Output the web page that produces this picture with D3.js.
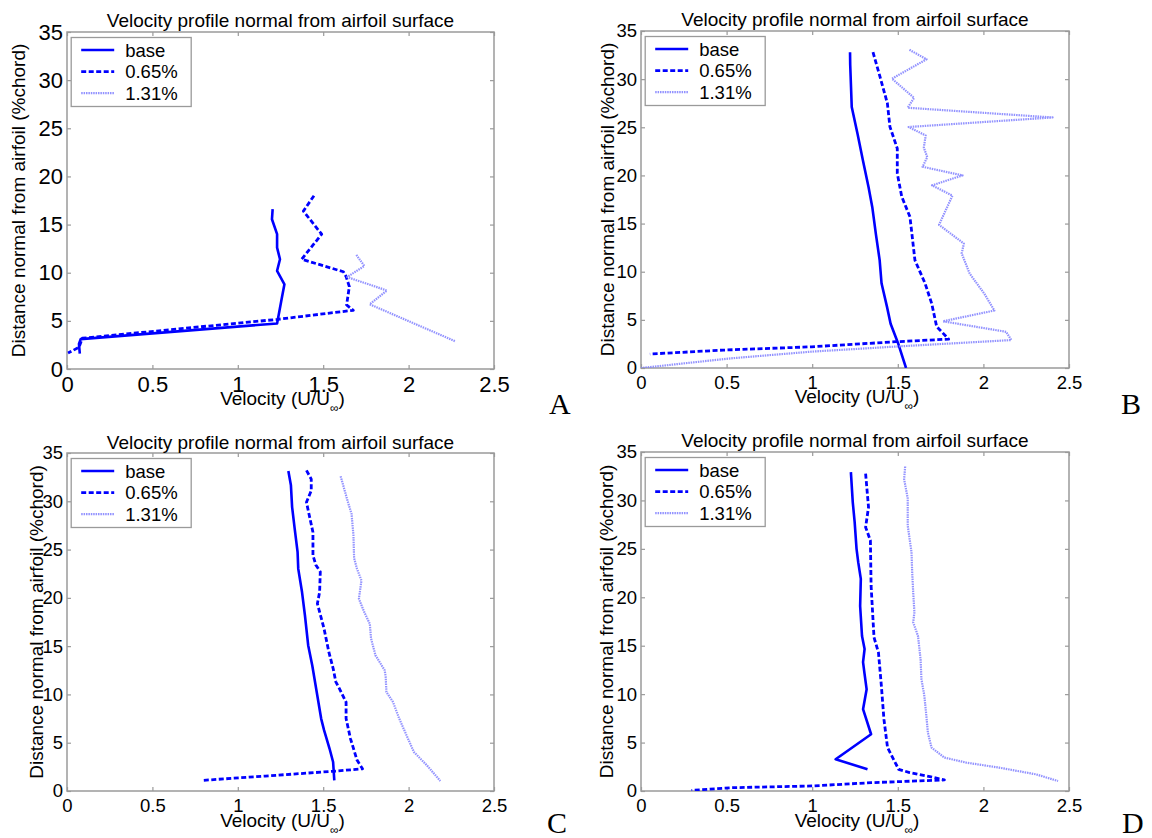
<!DOCTYPE html>
<html>
<head>
<meta charset="utf-8">
<script src="https://cdn.jsdelivr.net/npm/d3@7/dist/d3.min.js"></script>
<style>
  html, body { margin: 0; padding: 0; background: #ffffff; }
  svg { display: block; }
  text { font-family: "Liberation Sans", Arial, sans-serif; fill: #000; }
</style>
</head>
<body>
<svg id="fig" width="1152" height="838"></svg>
<script>
// ---- axis ticks ----
const xTickValues = [0, 0.5, 1, 1.5, 2, 2.5];
const xTickLabels = ["0", "0.5", "1", "1.5", "2", "2.5"];
const yTickValues = [0, 5, 10, 15, 20, 25, 30, 35];
const yTickLabels = ["0", "5", "10", "15", "20", "25", "30", "35"];

// ---- legend entries ----
const seriesNames = ["base", "0.65%", "1.31%"];

// ---- velocity profiles: [U/U∞, distance (%chord)] ----
const A_base = [[1.204,16.6],[1.200,15.55],[1.230,14.0],[1.230,12.6],[1.247,11.4],[1.230,10.2],[1.273,8.8],[1.258,7.4],[1.230,4.73],[0.080,3.1],[0.070,2.6],[0.075,1.6]];
const A_dash = [[1.446,18.0],[1.384,16.4],[1.491,14.0],[1.374,11.4],[1.618,10.1],[1.634,9.6],[1.653,8.55],[1.637,6.65],[1.676,6.1],[1.230,5.15],[0.090,3.2],[0.070,2.25],[0.006,1.66]];
const A_dot  = [[1.694,11.85],[1.741,10.7],[1.640,9.55],[1.873,8.15],[1.772,6.72],[2.273,2.88]];

const B_base = [[1.221,32.8],[1.222,31.5],[1.231,27.1],[1.265,24.3],[1.297,21.5],[1.329,18.8],[1.351,16.7],[1.372,13.9],[1.394,11.2],[1.405,8.8],[1.437,6.35],[1.458,4.6],[1.501,2.6],[1.548,0.0]];
const B_dash = [[1.355,32.8],[1.396,30.25],[1.439,27.5],[1.454,25.06],[1.497,22.8],[1.497,20.2],[1.523,17.8],[1.571,15.7],[1.600,11.2],[1.659,8.8],[1.698,6.7],[1.727,4.3],[1.797,3.0],[1.490,2.73],[0.997,2.2],[0.481,1.86],[0.052,1.45]];
const B_dot  = [[1.568,33.05],[1.668,32.06],[1.466,30.05],[1.595,28.05],[1.558,27.03],[2.404,26.02],[1.563,25.03],[1.663,24.15],[1.652,22.9],[1.672,21.9],[1.645,20.9],[1.878,20.0],[1.700,18.97],[1.819,17.9],[1.770,16.0],[1.741,14.87],[1.886,12.92],[1.873,11.9],[1.920,9.8],[2.006,7.7],[2.064,5.97],[1.764,4.85],[2.133,3.76],[2.163,2.9],[1.512,2.25],[0.997,1.7],[0.524,1.0],[0.0,0.0]];

const C_base = [[1.296,33.14],[1.311,31.65],[1.318,29.4],[1.333,27.17],[1.350,24.75],[1.354,23.0],[1.376,20.6],[1.393,18.2],[1.412,15.1],[1.436,13.0],[1.462,10.25],[1.488,7.5],[1.505,6.3],[1.537,4.4],[1.558,3.0],[1.565,1.1]];
const C_dash = [[1.402,33.2],[1.430,32.3],[1.430,31.1],[1.402,29.9],[1.419,28.5],[1.440,26.8],[1.440,24.4],[1.457,23.4],[1.483,22.7],[1.479,20.6],[1.466,19.4],[1.505,16.8],[1.533,14.4],[1.558,12.7],[1.574,11.3],[1.595,10.6],[1.634,9.2],[1.634,7.5],[1.660,5.4],[1.698,3.2],[1.730,2.3],[1.558,2.04],[1.161,1.55],[0.795,1.1]];
const C_dot  = [[1.602,32.6],[1.645,29.9],[1.666,28.7],[1.677,26.5],[1.681,24.1],[1.698,23.0],[1.724,21.8],[1.709,19.9],[1.741,18.5],[1.773,17.3],[1.780,15.8],[1.806,14.05],[1.860,12.5],[1.866,11.8],[1.870,10.25],[1.909,9.2],[1.945,7.5],[1.988,5.76],[2.031,4.04],[2.107,2.66],[2.186,1.04]];

const D_base = [[1.226,32.93],[1.237,29.8],[1.248,27.76],[1.259,25.0],[1.269,23.6],[1.284,21.9],[1.280,19.1],[1.291,16.0],[1.306,14.66],[1.297,13.3],[1.306,12.07],[1.318,10.5],[1.297,8.45],[1.344,5.86],[1.137,3.28],[1.323,2.24]];
const D_dash = [[1.312,32.76],[1.329,29.3],[1.312,27.24],[1.340,25.86],[1.344,21.2],[1.361,15.86],[1.387,14.3],[1.404,10.86],[1.419,7.41],[1.440,4.48],[1.505,2.24],[1.569,1.9],[1.687,1.48],[1.772,1.14],[1.344,0.86],[1.000,0.52],[0.530,0.34],[0.295,0.07]];
const D_dot  = [[1.543,33.5],[1.537,32.2],[1.558,30.2],[1.558,27.4],[1.580,24.66],[1.584,22.6],[1.590,20.5],[1.597,18.45],[1.590,17.4],[1.618,16.0],[1.633,13.6],[1.638,11.55],[1.655,9.83],[1.665,8.1],[1.676,6.0],[1.697,4.48],[1.772,3.45],[1.900,2.93],[2.093,2.41],[2.307,1.72],[2.436,1.03]];

// ---- line styles for the three series ----
const styles = [
  { stroke: "#0000ff", width: 2.6, dash: null,     opacity: 1 },
  { stroke: "#0000ff", width: 2.8, dash: "5,2.5",  opacity: 1 },
  { stroke: "#7f7fff", width: 2.2, dash: "1.5,0.9", opacity: 0.85 }
];

// ---- panel layout ----
const panels = [
  { tag: "A", series: [A_base, A_dash, A_dot], left: 67,  right: 494,  top: 32,  bottom: 369,
    tickFont: 22, titleY: 27,  xlabY: 405, ylabX: 25,  tagX: 549,  tagY: 414 },
  { tag: "B", series: [B_base, B_dash, B_dot], left: 641, right: 1069, top: 31,  bottom: 368,
    tickFont: 18.5, titleY: 26, xlabY: 403, ylabX: 614, tagX: 1121, tagY: 414 },
  { tag: "C", series: [C_base, C_dash, C_dot], left: 67,  right: 494,  top: 453, bottom: 791,
    tickFont: 18.5, titleY: 449, xlabY: 827, ylabX: 43,  tagX: 547,  tagY: 833 },
  { tag: "D", series: [D_base, D_dash, D_dot], left: 641, right: 1069, top: 452, bottom: 791,
    tickFont: 18.5, titleY: 447, xlabY: 827, ylabX: 613, tagX: 1122, tagY: 833 }
];

const svg = d3.select("#fig");
const frameColor = "#9a9a9a";

panels.forEach((p) => {
  const x = d3.scaleLinear().domain([0, 2.5]).range([p.left, p.right]);
  const y = d3.scaleLinear().domain([0, 35]).range([p.bottom, p.top]);
  const g = svg.append("g");

  // clip for the data lines
  const clipId = "clip" + p.tag;
  svg.append("clipPath").attr("id", clipId).append("rect")
    .attr("x", p.left).attr("y", p.top)
    .attr("width", p.right - p.left).attr("height", p.bottom - p.top);

  // axes: inward ticks on all four sides
  const styleAxis = sel => {
    sel.select(".domain").remove();
    sel.selectAll(".tick line").attr("stroke", frameColor).attr("stroke-width", 1.2);
    sel.selectAll(".tick text").style("font-size", p.tickFont + "px").attr("fill", "#000");
  };
  g.append("g").attr("transform", `translate(0,${p.bottom})`)
    .call(d3.axisBottom(x).tickValues(xTickValues).tickFormat((d, i) => xTickLabels[i])
      .tickSizeInner(-4).tickSizeOuter(0).tickPadding(7.5))
    .call(styleAxis);
  g.append("g").attr("transform", `translate(0,${p.top})`)
    .call(d3.axisTop(x).tickValues(xTickValues).tickFormat("").tickSizeInner(-4).tickSizeOuter(0))
    .call(styleAxis);
  g.append("g").attr("transform", `translate(${p.left},0)`)
    .call(d3.axisLeft(y).tickValues(yTickValues).tickFormat((d, i) => yTickLabels[i])
      .tickSizeInner(-4).tickSizeOuter(0).tickPadding(4))
    .call(styleAxis);
  g.append("g").attr("transform", `translate(${p.right},0)`)
    .call(d3.axisRight(y).tickValues(yTickValues).tickFormat("").tickSizeInner(-4).tickSizeOuter(0))
    .call(styleAxis);

  // plot frame
  g.append("rect")
    .attr("x", p.left).attr("y", p.top)
    .attr("width", p.right - p.left).attr("height", p.bottom - p.top)
    .attr("fill", "none").attr("stroke", frameColor).attr("stroke-width", 1.5);

  // profiles
  const line = d3.line().x(d => x(d[0])).y(d => y(d[1]));
  const lines = g.append("g").attr("clip-path", `url(#${clipId})`);
  p.series.forEach((s, si) => {
    const st = styles[si];
    lines.append("path").datum(s)
      .attr("d", line)
      .attr("fill", "none")
      .attr("stroke", st.stroke)
      .attr("stroke-width", st.width)
      .attr("stroke-dasharray", st.dash)
      .attr("stroke-linejoin", "round")
      .attr("opacity", st.opacity);
  });

  // legend
  const lx = p.left + 4.2, ly = p.top + 5.5;
  const lg = g.append("g");
  lg.append("rect").attr("x", lx).attr("y", ly).attr("width", 120).attr("height", 69)
    .attr("fill", "#fff").attr("stroke", frameColor).attr("stroke-width", 1.3);
  seriesNames.forEach((name, si) => {
    const ry = ly + 12.5 + si * 21.6;
    const st = styles[si];
    lg.append("line").attr("x1", lx + 10).attr("x2", lx + 43).attr("y1", ry).attr("y2", ry)
      .attr("stroke", st.stroke).attr("stroke-width", st.width)
      .attr("stroke-dasharray", st.dash).attr("opacity", st.opacity);
    lg.append("text").attr("x", lx + 54).attr("y", ry + 6.5)
      .style("font-size", "18.5px").text(name);
  });

  // title
  g.append("text").attr("x", (p.left + p.right) / 2).attr("y", p.titleY)
    .attr("text-anchor", "middle").style("font-size", "19px")
    .text("Velocity profile normal from airfoil surface");

  // x axis label with subscript infinity
  const xl = g.append("text").attr("x", (p.left + p.right) / 2 + 2).attr("y", p.xlabY)
    .attr("text-anchor", "middle").style("font-size", "19px");
  xl.append("tspan").text("Velocity (U/U");
  xl.append("tspan").attr("dy", 7).style("font-size", "12px").text("\u221E");
  xl.append("tspan").attr("dy", -7).text(")");

  // y axis label
  g.append("text")
    .attr("transform", `translate(${p.ylabX},${(p.top + p.bottom) / 2}) rotate(-90)`)
    .attr("text-anchor", "middle").style("font-size", "19px")
    .text("Distance normal from airfoil (%chord)");

  // panel tag
  g.append("text").attr("x", p.tagX).attr("y", p.tagY)
    .style("font-family", "'Liberation Serif', 'Times New Roman', serif")
    .style("font-size", "30px").text(p.tag);
});
</script>
</body>
</html>
